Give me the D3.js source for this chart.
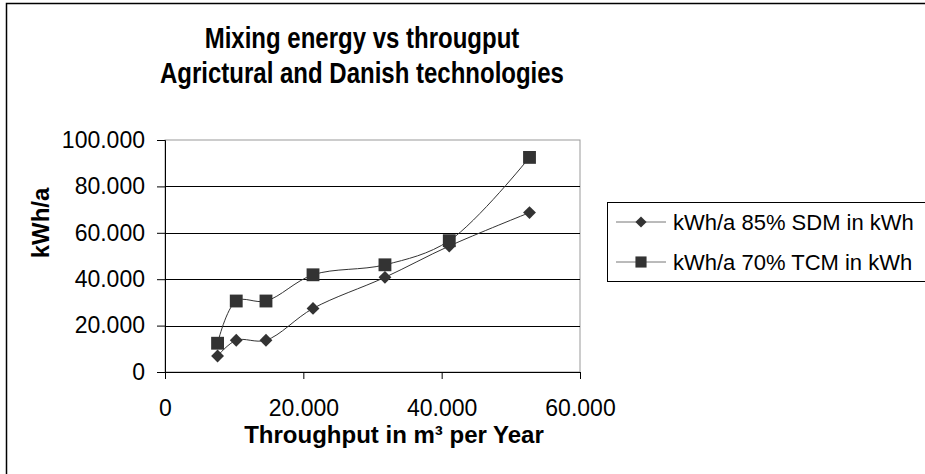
<!DOCTYPE html>
<html>
<head>
<meta charset="utf-8">
<script src="https://cdn.jsdelivr.net/npm/d3@7/dist/d3.min.js"></script>
<style>
  body { margin: 0; background: #fff; }
  svg { font-family: 'Liberation Sans', Arial, sans-serif; }
</style>
</head>
<body>
<div id="chart-area"></div>
<script>
// data
let throughput = [7600, 10300, 14600, 21400, 31800, 41100, 52700];
let sdmValues = [6900, 13700, 13700, 27400, 40800, 54300, 68700];
let tcmValues = [12400, 30600, 30600, 41900, 46200, 56600, 92500];
let seriesNames = ['kWh/a 85% SDM in kWh', 'kWh/a 70% TCM in kWh'];
let xTicks = [0, 20000, 40000, 60000];
let yTicks = [0, 20000, 40000, 60000, 80000, 100000];
let titleLines = ['Mixing energy vs througput', 'Agrictural and Danish technologies'];

let locale = d3.formatLocale({ decimal: ',', thousands: '.', grouping: [3], currency: ['', ''] });
let fmt = locale.format(',');

let margin = { top: 140, right: 345, bottom: 102, left: 165 };
let width = 925 - margin.left - margin.right;
let height = 474 - margin.top - margin.bottom;

let svg = d3.select('#chart-area')
  .append('svg')
  .attr('width', 925)
  .attr('height', 474);

// outer chart frame
svg.append('rect')
  .attr('x', 6.5)
  .attr('y', 3.5)
  .attr('width', 940)
  .attr('height', 500)
  .attr('fill', 'none')
  .attr('stroke', '#000')
  .attr('stroke-width', 1.5);

// Title (glyphs are a bit taller than wide in the original)
svg.selectAll('text.title')
  .data(titleLines)
  .enter()
  .append('text')
  .attr('class', 'title')
  .attr('transform', (d, i) => 'translate(362, ' + (48 + i * 35) + ') scale(1, 1.2)')
  .attr('text-anchor', 'middle')
  .attr('font-size', '24px')
  .attr('font-weight', 'bold')
  .text(d => d);

let g = svg.append('g')
  .attr('transform', 'translate(' + margin.left + ', ' + margin.top + ')');

let x = d3.scaleLinear()
  .domain([0, 60000])
  .range([0, width]);

let y = d3.scaleLinear()
  .domain([0, 100000])
  .range([height, 0]);

// plot border (top / right grey)
g.append('rect')
  .attr('x', 0)
  .attr('y', 0)
  .attr('width', width)
  .attr('height', height)
  .attr('fill', 'none')
  .attr('stroke', '#999');

// gridlines
g.selectAll('line.grid')
  .data(yTicks.slice(1, -1))
  .enter()
  .append('line')
  .attr('class', 'grid')
  .attr('x1', 0)
  .attr('x2', width)
  .attr('y1', d => Math.round(y(d)) + 0.5)
  .attr('y2', d => Math.round(y(d)) + 0.5)
  .attr('stroke', '#000');

let xAxisCall = d3.axisBottom(x)
  .tickValues(xTicks)
  .tickFormat(fmt)
  .tickSize(7)
  .tickPadding(21);

let xAxis = g.append('g')
  .attr('class', 'x axis')
  .attr('transform', 'translate(0, ' + height + ')')
  .call(xAxisCall);

let yAxisCall = d3.axisLeft(y)
  .tickValues(yTicks)
  .tickFormat(fmt)
  .tickSize(8)
  .tickPadding(12);

let yAxis = g.append('g')
  .attr('class', 'y axis')
  .call(yAxisCall);

[xAxis, yAxis].forEach(a => {
  a.attr('font-family', null).attr('font-size', null);
  a.select('.domain').attr('stroke', '#000');
  a.selectAll('.tick line').attr('stroke', '#000');
  a.selectAll('.tick text')
    .attr('font-size', '23px')
    .attr('fill', '#000');
});

// X Label
svg.append('text')
  .attr('x', 394)
  .attr('y', 443)
  .attr('text-anchor', 'middle')
  .attr('font-size', '24px')
  .attr('font-weight', 'bold')
  .text('Throughput in m³ per Year');

// Y Label
svg.append('text')
  .attr('transform', 'translate(49, 223) rotate(-90)')
  .attr('text-anchor', 'middle')
  .attr('font-size', '24px')
  .attr('font-weight', 'bold')
  .text('kWh/a');

let series = [
  { name: seriesNames[0], values: sdmValues, symbol: d3.symbolDiamond2, size: 105 },
  { name: seriesNames[1], values: tcmValues, symbol: d3.symbolSquare, size: 165 }
];

let line = d3.line()
  .x(d => x(d[0]))
  .y(d => y(d[1]))
  .curve(d3.curveCatmullRom.alpha(0.5));

series.forEach(s => {
  let pts = throughput.map((t, i) => [t, s.values[i]]);

  g.append('path')
    .datum(pts)
    .attr('d', line)
    .attr('fill', 'none')
    .attr('stroke', '#333')
    .attr('stroke-width', 1);

  g.selectAll(null)
    .data(pts)
    .enter()
    .append('path')
    .attr('d', d3.symbol().type(s.symbol).size(s.size))
    .attr('transform', d => 'translate(' + x(d[0]) + ', ' + y(d[1]) + ')')
    .attr('fill', '#333');
});

// Legend
let legend = svg.append('g')
  .attr('transform', 'translate(607, 202)');

legend.append('rect')
  .attr('x', 0.5)
  .attr('y', 0.5)
  .attr('width', 400)
  .attr('height', 79)
  .attr('fill', '#fff')
  .attr('stroke', '#000');

series.forEach((s, i) => {
  let row = legend.append('g')
    .attr('transform', 'translate(0, ' + (20 + i * 40) + ')');

  row.append('line')
    .attr('x1', 9)
    .attr('x2', 59)
    .attr('stroke', '#777');

  row.append('path')
    .attr('d', d3.symbol().type(s.symbol).size(s.size * 0.75))
    .attr('transform', 'translate(34, 0)')
    .attr('fill', '#333');

  row.append('text')
    .attr('x', 66)
    .attr('y', 8)
    .attr('font-size', '22px')
    .text(s.name);
});
</script>
</body>
</html>
